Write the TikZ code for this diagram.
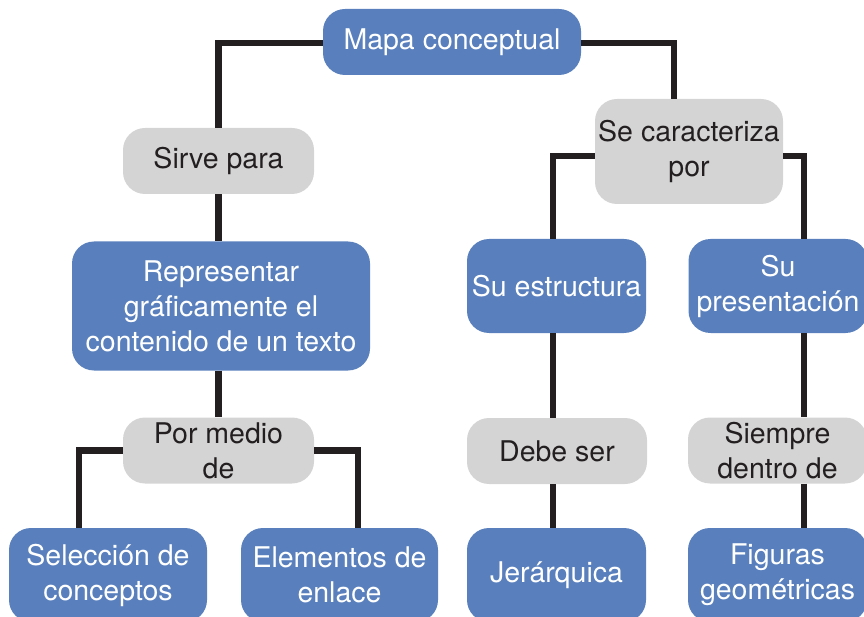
\documentclass[tikz,border=0pt]{standalone}
\usepackage{fontspec}
\setmainfont{TeX Gyre Heros}
\definecolor{cblue}{RGB}{89,128,189}
\definecolor{cgray}{RGB}{212,212,212}
\definecolor{cdark}{RGB}{35,31,32}
\begin{document}
\begin{tikzpicture}[x=1pt,y=-1pt,
  box/.style={rectangle, rounded corners=22pt, inner sep=0pt, align=center, font=\fontsize{28.5}{35}\selectfont},
  con/.style={box, fill=cblue, text=white},
  lnk/.style={box, fill=cgray, text=cdark},
  wire/.style={draw=cdark, line width=6.5pt}]
\useasboundingbox (0,0) rectangle (864,617);
\clip (0,0) rectangle (864,617);
% nodes
\node[con, minimum width=258pt, minimum height=66pt] (mapa) at (452,42) {Mapa conceptual};
\node[lnk, minimum width=191pt, minimum height=66pt] (sirve) at (218.5,161) {Sirve para};
\node[lnk, minimum width=188pt, minimum height=105pt] (car) at (689,151.5) {Se caracteriza\\por};
\node[con, minimum width=298pt, minimum height=129pt] (rep) at (221,306) {Representar\\gráficamente el\\contenido de un texto};
\node[con, minimum width=179pt, minimum height=94pt] (est) at (556.5,286) {Su estructura};
\node[con, minimum width=179pt, minimum height=94pt] (pres) at (778,286) {Su\\presentación};
\node[lnk, minimum width=191pt, minimum height=66pt] (medio) at (218.5,450.5) {Por medio\\de};
\node[lnk, minimum width=180pt, minimum height=66pt] (debe) at (557,451) {Debe ser};
\node[lnk, minimum width=179pt, minimum height=66pt] (siem) at (777.5,450.5) {Siempre\\dentro de};
\node[con, minimum width=198pt, minimum height=94pt] (sel) at (108,575) {Selección de\\conceptos};
\node[con, minimum width=197pt, minimum height=94pt] (ele) at (339.5,575) {Elementos de\\enlace};
\node[con, minimum width=179pt, minimum height=94pt] (jer) at (556.5,575) {Jerárquica};
\node[con, minimum width=179pt, minimum height=94pt] (fig) at (777.5,575) {Figuras\\geométricas};
% connectors
\draw[wire] ([yshift=-1pt]mapa.west) -| (sirve.north);
\draw[wire] ([yshift=-1pt]mapa.east) -| ([xshift=-15pt]car.north);
\draw[wire] (sirve.south) -- (sirve.south |- rep.north);
\draw[wire] ([yshift=-4.5pt]car.west) -| ([xshift=-3.5pt]est.north);
\draw[wire] ([yshift=-4.5pt]car.east) -| ([xshift=26pt]pres.north);
\draw[wire] (medio.north |- rep.south) -- (medio.north);
\draw[wire] (medio.west) -| ([xshift=-29pt]sel.north);
\draw[wire] (medio.east) -| ([xshift=18.5pt]ele.north);
\draw[wire] ([xshift=-3.5pt]est.south) -- ([xshift=-4pt]debe.north);
\draw[wire] ([xshift=-4pt]debe.south) -- ([xshift=-3.5pt]jer.north);
\draw[wire] ([xshift=26pt]pres.south) -- ([xshift=26.5pt]siem.north);
\draw[wire] ([xshift=26.5pt]siem.south) -- ([xshift=26.5pt]fig.north);
\end{tikzpicture}
\end{document}
